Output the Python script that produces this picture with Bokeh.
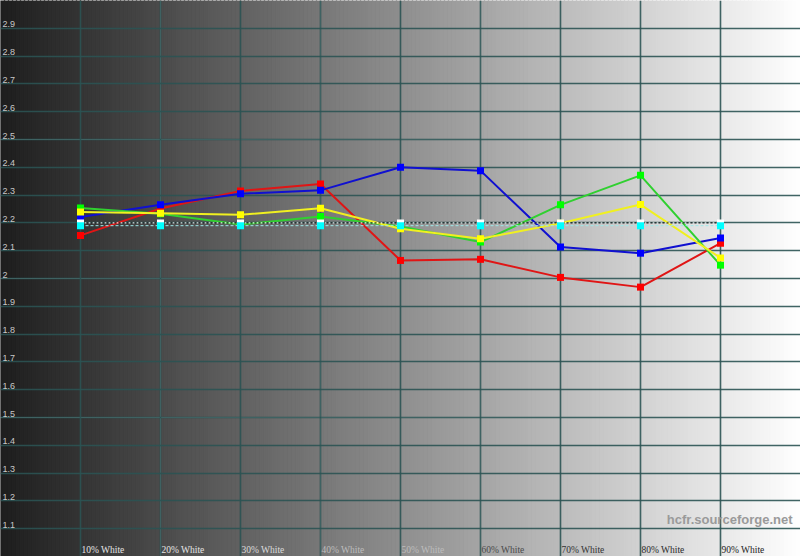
import numpy as np
from bokeh.plotting import figure
from bokeh.models import FixedTicker, Grid, Range1d, Label
from bokeh.embed import file_html
from bokeh.resources import INLINE
from bokeh.core.properties import value

# ---- data ----
x_pos = [10, 20, 30, 40, 50, 60, 70, 80, 90]
x_labels = ["10% White", "20% White", "30% White", "40% White", "50% White",
            "60% White", "70% White", "80% White", "90% White"]
y_ticks = [1.1, 1.2, 1.3, 1.4, 1.5, 1.6, 1.7, 1.8, 1.9, 2.0,
           2.1, 2.2, 2.3, 2.4, 2.5, 2.6, 2.7, 2.8, 2.9]
y_tick_labels = ["1.1", "1.2", "1.3", "1.4", "1.5", "1.6", "1.7", "1.8", "1.9", "2",
                 "2.1", "2.2", "2.3", "2.4", "2.5", "2.6", "2.7", "2.8", "2.9"]

red = [2.155, 2.252, 2.315, 2.340, 2.065, 2.069, 2.004, 1.969, 2.127]
green = [2.254, 2.233, 2.194, 2.223, 2.187, 2.131, 2.265, 2.371, 2.048]
blue = [2.221, 2.265, 2.305, 2.317, 2.400, 2.388, 2.113, 2.091, 2.146]
yellow = [2.239, 2.235, 2.229, 2.253, 2.179, 2.143, 2.199, 2.266, 2.074]
luma = [2.19, 2.19, 2.19, 2.19, 2.19, 2.19, 2.19, 2.19, 2.19]
target = [2.2, 2.2, 2.2, 2.2, 2.2, 2.2, 2.2, 2.2, 2.2]

x_label_colors = ["#e6e6e6", "#e6e6e6", "#dcdcdc", "#bdbdbd", "#bdbdbd",
                  "#4a4a4a", "#333333", "#2a2a2a", "#222222"]

# ---- figure ----
p = figure(width=800, height=556, x_range=Range1d(0, 100), y_range=Range1d(1.0, 3.0),
           output_backend="svg", toolbar_location=None, min_border=0,
           x_axis_location=None, y_axis_location=None)
p.outline_line_color = None
p.background_fill_color = "#ffffff"
p.border_fill_color = "#ffffff"

# horizontal gradient background
n = 200
edges = np.linspace(0, 100, n + 1)
lefts = edges[:-1]
rights = edges[1:]
mids = (lefts + rights) / 2
levels = (30 + (255 - 30) * mids / 100).astype(int)
cols = ["#%02x%02x%02x" % (v, v, v) for v in levels]
p.quad(left=lefts, right=rights, bottom=0.9, top=3.1, fill_color=cols,
       line_color=cols, line_width=1.2, level="image")

grid_color = "#2b5353"
p.add_layout(Grid(dimension=0, ticker=FixedTicker(ticks=x_pos),
                  grid_line_color=grid_color, grid_line_width=1.6, grid_line_alpha=0.9))
p.add_layout(Grid(dimension=1, ticker=FixedTicker(ticks=y_ticks),
                  grid_line_color=grid_color, grid_line_width=1.6, grid_line_alpha=0.9))

# tick labels
p.text(x=[0] * len(y_ticks), y=y_ticks, text=y_tick_labels, x_offset=2, y_offset=-1,
       text_baseline="bottom", text_align="left", text_color="#c8c8c8",
       text_font=value("Liberation Sans"), text_font_size="9px")
p.text(x=x_pos, y=[1.0] * len(x_pos), text=x_labels, x_offset=1, y_offset=-2,
       text_baseline="bottom", text_align="left", text_color=x_label_colors,
       text_font=value("Liberation Serif"), text_font_size="9.5px")

# series
series = [(red, "#ff0000", "#e01515"), (blue, "#0000ff", "#1010d0"),
          (green, "#00ff00", "#30d030"), (yellow, "#ffff00", "#f0f020")]
for ys, mc, lc in series:
    p.line(x_pos, ys, line_color=lc, line_width=2)
    p.scatter(x_pos, ys, marker="square", size=7, fill_color=mc, line_color=None)

p.line(x_pos, target, line_color="#ffffff", line_width=1, line_dash="2 2")
p.line(x_pos, target, line_color="#202020", line_width=1, line_dash="2 2", line_dash_offset=2)
p.line(x_pos, luma, line_color="#9ee8e8", line_width=1, line_dash="3 2")
p.scatter(x_pos, target, marker="square", size=7, fill_color="#ffffff", line_color=None)
p.scatter(x_pos, luma, marker="square", size=7, fill_color="#00ffff", line_color=None)

p.add_layout(Label(x=792, y=37, x_units="screen", y_units="screen",
                   text="hcfr.sourceforge.net", text_align="right", text_baseline="middle",
                   text_color="#9a9a9a", text_font="Liberation Sans",
                   text_font_size="13px", text_font_style="bold"))

open("out.html", "w").write(file_html(p, INLINE))
